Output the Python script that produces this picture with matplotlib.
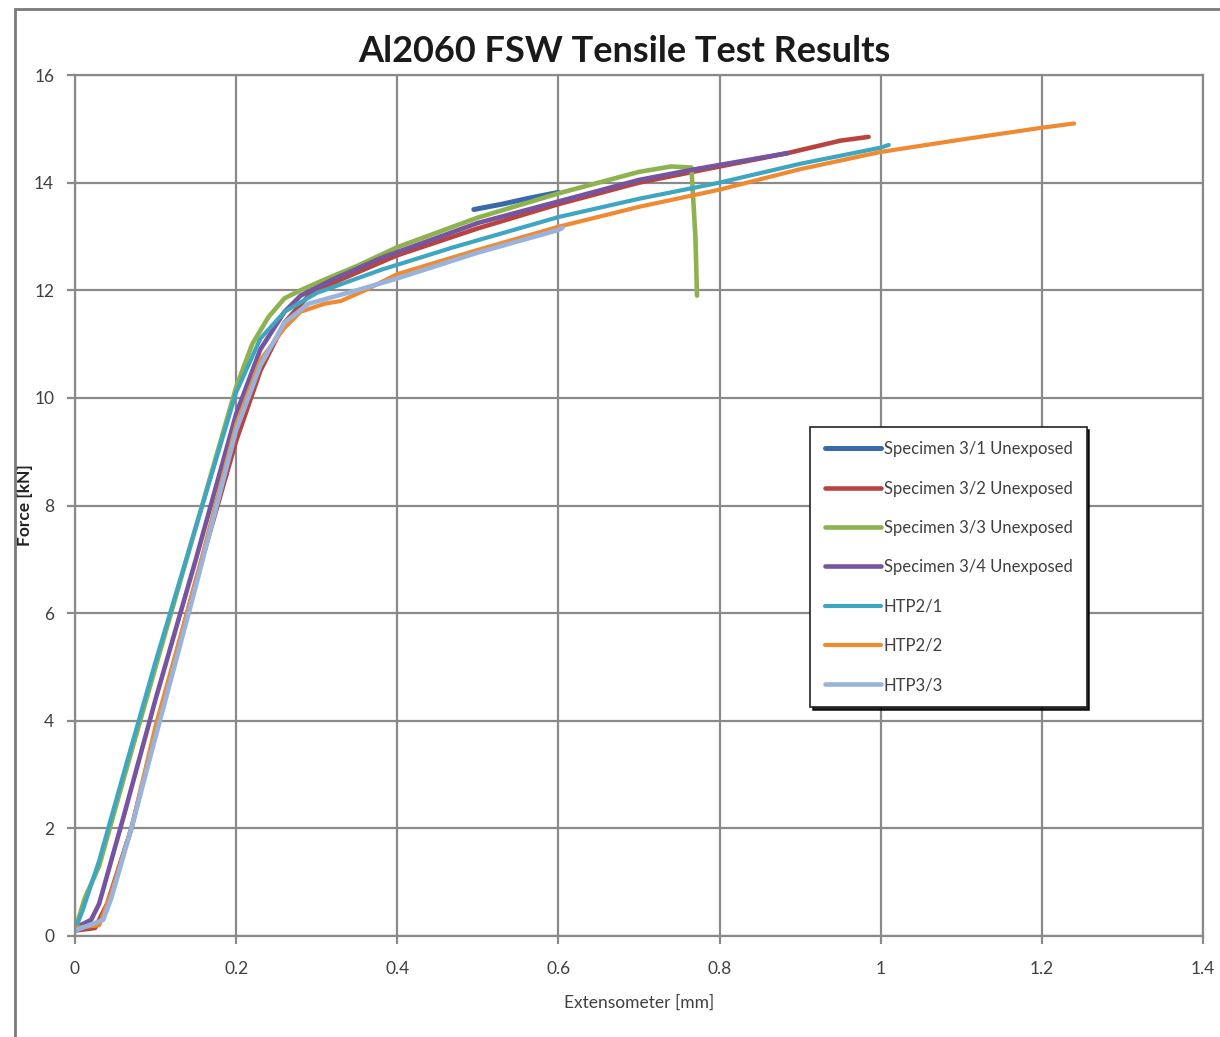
import matplotlib
matplotlib.use("Agg")
import matplotlib.pyplot as plt
from matplotlib.patches import Rectangle

plt.rcParams["font.family"] = ["Lato", "DejaVu Sans"]

# Specimen 3/1 only visible where it isn't covered by later series
s31_x = [0.495, 0.53, 0.56, 0.6]
s31_y = [13.5, 13.6, 13.7, 13.82]

s32_x = [0, 0.025, 0.04, 0.07, 0.1, 0.15, 0.2, 0.23, 0.26, 0.29, 0.33, 0.4, 0.5,
         0.6, 0.7, 0.8, 0.885, 0.95, 0.985]
s32_y = [0.1, 0.15, 0.6, 2.0, 3.8, 6.6, 9.2, 10.5, 11.4, 11.9, 12.2, 12.65, 13.15,
         13.6, 14.0, 14.3, 14.55, 14.78, 14.85]

s33_x = [0, 0.012, 0.03, 0.06, 0.1, 0.15, 0.2, 0.22, 0.24, 0.26, 0.28, 0.31, 0.35,
         0.4, 0.5, 0.6, 0.7, 0.74, 0.765, 0.77, 0.772]
s33_y = [0.1, 0.7, 1.3, 2.9, 5.0, 7.6, 10.2, 11.0, 11.5, 11.85, 12.0, 12.2, 12.45,
         12.8, 13.35, 13.8, 14.2, 14.3, 14.28, 13.0, 11.9]

s34_x = [0, 0.02, 0.03, 0.06, 0.1, 0.15, 0.2, 0.23, 0.26, 0.28, 0.32, 0.38, 0.5,
         0.6, 0.7, 0.77, 0.885]
s34_y = [0.15, 0.3, 0.6, 2.2, 4.4, 7.0, 9.7, 10.9, 11.6, 11.9, 12.2, 12.6, 13.25,
         13.65, 14.05, 14.25, 14.55]

htp21_x = [0, 0.01, 0.03, 0.06, 0.1, 0.15, 0.2, 0.23, 0.26, 0.3, 0.38, 0.47, 0.6,
           0.7, 0.8, 0.9, 1.0, 1.01]
htp21_y = [0.1, 0.5, 1.4, 3.0, 5.1, 7.6, 10.1, 11.1, 11.6, 11.95, 12.38, 12.8, 13.36,
           13.7, 14.0, 14.35, 14.65, 14.7]

htp22_x = [0, 0.03, 0.045, 0.07, 0.1, 0.15, 0.2, 0.23, 0.26, 0.28, 0.31, 0.33, 0.36,
           0.4, 0.5, 0.6, 0.7, 0.8, 0.9, 1.0, 1.1, 1.2, 1.24]
htp22_y = [0.15, 0.2, 0.8, 2.0, 3.9, 6.6, 9.5, 10.7, 11.3, 11.6, 11.75, 11.8, 12.0,
           12.3, 12.75, 13.18, 13.55, 13.87, 14.25, 14.57, 14.8, 15.02, 15.1]

htp33_x = [0, 0.035, 0.045, 0.07, 0.1, 0.15, 0.2, 0.23, 0.26, 0.29, 0.35, 0.4, 0.5,
           0.6, 0.605]
htp33_y = [0.1, 0.3, 0.7, 2.0, 3.7, 6.5, 9.4, 10.6, 11.4, 11.75, 12.0, 12.22, 12.7,
           13.12, 13.16]

series = [
    ("Specimen 3/1 Unexposed", s31_x, s31_y, "#3a6aae", 3.6),
    ("Specimen 3/2 Unexposed", s32_x, s32_y, "#b84440", 3.3),
    ("Specimen 3/3 Unexposed", s33_x, s33_y, "#8db24e", 3.3),
    ("Specimen 3/4 Unexposed", s34_x, s34_y, "#7654a0", 3.3),
    ("HTP2/1", htp21_x, htp21_y, "#3ea6c0", 3.0),
    ("HTP2/2", htp22_x, htp22_y, "#ef8a32", 3.0),
    ("HTP3/3", htp33_x, htp33_y, "#98b4dc", 3.3),
]

x_ticks = [0, 0.2, 0.4, 0.6, 0.8, 1, 1.2, 1.4]
x_labels = ["0", "0.2", "0.4", "0.6", "0.8", "1", "1.2", "1.4"]
y_ticks = [0, 2, 4, 6, 8, 10, 12, 14, 16]

_GRID, _TXT = "#8a8a8a", "#404040"

fig = plt.figure(figsize=(12.2, 10.37), dpi=100)
ax = fig.add_axes([75 / 1220, 101 / 1037, 1128 / 1220, 861 / 1037])

for name, xs, ys, col, lw in series:
    ax.plot(xs, ys, color=col, linewidth=lw, label=name, solid_capstyle="round")

ax.set_xlim(0, 1.4)
ax.set_ylim(0, 16)
ax.set_xticks(x_ticks)
ax.set_xticklabels(x_labels)
ax.set_yticks(y_ticks)
ax.grid(color=_GRID, linewidth=1.6)
ax.set_axisbelow(True)
for sp in ax.spines.values():
    sp.set_color(_GRID)
    sp.set_linewidth(1.6)
ax.tick_params(axis="both", colors=_GRID, width=1.6, length=6, labelcolor=_TXT, labelsize=12.5)
ax.tick_params(axis="x", pad=12)
ax.tick_params(axis="y", pad=9)

ax.set_xlabel("Extensometer [mm]", fontsize=12.5, color=_TXT)
ax.xaxis.set_label_coords(0.5, -0.068)
ax.set_ylabel("Force [kN]", fontsize=12.5, color="#222222", fontweight="bold")
ax.yaxis.set_label_coords(-0.037, 0.5)
fig.text(0.512, 0.95, "Al2060 FSW Tensile Test Results", ha="center", va="center",
         fontsize=26, fontweight="bold", color="#1a1a1a")

leg = ax.legend(loc="upper left", bbox_to_anchor=(0.652, 0.591), fontsize=12,
                labelspacing=1.4, handlelength=3.4, handletextpad=0.15, borderpad=0.85,
                borderaxespad=0, fancybox=False, edgecolor="#222222",
                shadow={"color": "black", "alpha": 0.85}, labelcolor=_TXT)
leg.get_frame().set_linewidth(1.2)

# chart area border (Excel style)
fig.patches.append(Rectangle((15 / 1220, -0.05), 1.2, 1 - 9 / 1037 + 0.05,
                             transform=fig.transFigure, fill=False,
                             edgecolor="#7a7a7a", linewidth=2))

fig.savefig("out.png", dpi=100, facecolor="white")
